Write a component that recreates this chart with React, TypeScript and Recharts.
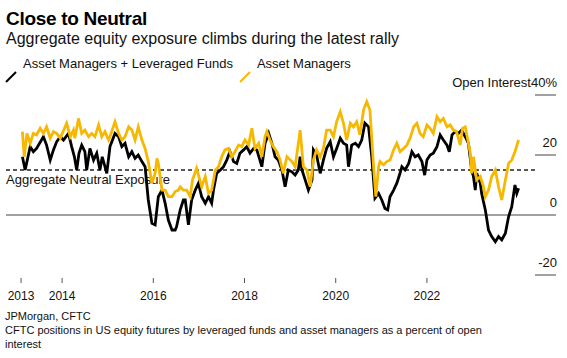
import React from 'react';
import { LineChart, Line, XAxis, YAxis, ReferenceLine } from 'recharts';

const blackYears = [
  2013.13, 2013.19, 2013.30, 2013.37, 2013.44, 2013.59, 2013.66, 2013.74, 2013.81, 2013.88, 2013.96,
  2014.03, 2014.14, 2014.21, 2014.27, 2014.32, 2014.37, 2014.43, 2014.50, 2014.54, 2014.61, 2014.69,
  2014.76, 2014.83, 2014.88, 2014.94, 2014.98, 2015.05, 2015.16, 2015.24, 2015.31, 2015.38, 2015.46,
  2015.53, 2015.60, 2015.67, 2015.75, 2015.82, 2015.89, 2015.97, 2016.04, 2016.11, 2016.19, 2016.26,
  2016.33, 2016.41, 2016.48, 2016.51, 2016.59, 2016.66, 2016.70, 2016.77, 2016.84, 2016.92, 2016.99,
  2017.06, 2017.14, 2017.21, 2017.28, 2017.32, 2017.39, 2017.47, 2017.54, 2017.61, 2017.68, 2017.76,
  2017.83, 2017.90, 2017.98, 2018.05, 2018.12, 2018.20, 2018.27, 2018.38, 2018.45, 2018.53, 2018.60,
  2018.67, 2018.74, 2018.82, 2018.89, 2018.96, 2019.04, 2019.11, 2019.18, 2019.22, 2019.26, 2019.33,
  2019.40, 2019.48, 2019.51, 2019.58, 2019.66, 2019.73, 2019.80, 2019.88, 2019.95, 2020.02, 2020.10,
  2020.17, 2020.24, 2020.28, 2020.35, 2020.43, 2020.50, 2020.57, 2020.64, 2020.72, 2020.79, 2020.86,
  2020.94, 2021.01, 2021.08, 2021.14, 2021.19, 2021.27, 2021.34, 2021.41, 2021.45, 2021.52, 2021.60,
  2021.67, 2021.74, 2021.81, 2021.89, 2021.95, 2022.00, 2022.07, 2022.14, 2022.22, 2022.29, 2022.36,
  2022.44, 2022.49, 2022.55, 2022.62, 2022.69, 2022.76, 2022.84, 2022.91, 2022.98, 2023.02, 2023.06,
  2023.09, 2023.17, 2023.20, 2023.28, 2023.35, 2023.42, 2023.50, 2023.57, 2023.64, 2023.72, 2023.79,
  2023.86, 2023.93, 2023.97, 2024.01,
];
const blackValues = [
  19.4, 15.0, 22.8, 21.1, 22.2, 26.1, 23.3, 18.3, 21.7, 24.4, 26.1,
  25.0, 27.2, 22.8, 19.4, 15.0, 20.6, 23.3, 21.1, 15.0, 22.2, 18.3,
  20.6, 15.0, 19.4, 16.1, 13.9, 22.8, 27.2, 26.1, 22.8, 23.9, 19.4,
  21.1, 18.9, 20.0, 17.8, 16.1, 5.0, -2.8, -3.3, 6.1, 8.3, 3.9,
  -1.7, -5.0, -5.0, -3.9, 1.7, 5.0, 5.0, -3.3, 5.0, 8.3, 10.6,
  6.1, 3.9, 6.1, 3.9, 8.3, 13.9, 15.0, 16.1, 18.3, 21.1, 17.8,
  17.2, 20.6, 21.7, 22.8, 20.6, 22.2, 21.7, 16.1, 23.9, 27.2, 23.9,
  19.4, 18.3, 15.0, 9.4, 15.0, 14.4, 13.3, 15.0, 19.4, 15.0, 11.7,
  8.3, 11.7, 21.7, 20.0, 13.9, 18.3, 22.2, 24.4, 19.4, 22.2, 25.6,
  23.9, 23.3, 16.1, 23.3, 23.9, 22.8, 25.0, 30.6, 29.4, 19.4, 5.6,
  7.2, 5.0, 2.2, 1.7, 6.1, 8.3, 10.6, 13.9, 16.1, 15.0, 17.2,
  21.1, 19.4, 20.0, 17.8, 13.3, 18.3, 20.0, 20.6, 22.8, 26.7, 25.0,
  23.3, 21.1, 26.7, 27.8, 27.2, 28.3, 26.1, 23.9, 15.0, 12.8, 8.3,
  13.9, 10.6, 7.2, 1.7, -5.0, -7.2, -8.9, -7.2, -8.3, -6.1, -0.6,
  2.8, 10.0, 7.2, 8.9,
];

const yellowYears = [
  2013.13, 2013.17, 2013.23, 2013.30, 2013.37, 2013.44, 2013.52, 2013.59, 2013.66, 2013.74, 2013.81,
  2013.88, 2013.96, 2014.10, 2014.18, 2014.25, 2014.28, 2014.36, 2014.43, 2014.50, 2014.58, 2014.65,
  2014.72, 2014.80, 2014.87, 2014.94, 2015.02, 2015.05, 2015.16, 2015.24, 2015.31, 2015.38, 2015.46,
  2015.53, 2015.60, 2015.67, 2015.75, 2015.82, 2015.89, 2015.97, 2016.04, 2016.08, 2016.11, 2016.19,
  2016.26, 2016.33, 2016.41, 2016.48, 2016.55, 2016.59, 2016.66, 2016.73, 2016.81, 2016.86, 2016.95,
  2017.06, 2017.14, 2017.21, 2017.28, 2017.36, 2017.43, 2017.50, 2017.57, 2017.65, 2017.72, 2017.79,
  2017.87, 2017.94, 2018.01, 2018.09, 2018.16, 2018.23, 2018.31, 2018.38, 2018.45, 2018.49, 2018.56,
  2018.63, 2018.71, 2018.78, 2018.85, 2018.93, 2019.04, 2019.11, 2019.22, 2019.29, 2019.37, 2019.44,
  2019.51, 2019.58, 2019.66, 2019.73, 2019.80, 2019.88, 2019.95, 2020.02, 2020.10, 2020.17, 2020.24,
  2020.32, 2020.39, 2020.46, 2020.53, 2020.61, 2020.68, 2020.75, 2020.83, 2020.88, 2020.94, 2020.97,
  2021.05, 2021.12, 2021.19, 2021.27, 2021.34, 2021.41, 2021.49, 2021.56, 2021.63, 2021.71, 2021.78,
  2021.85, 2021.92, 2022.00, 2022.07, 2022.14, 2022.22, 2022.29, 2022.36, 2022.44, 2022.51, 2022.58,
  2022.65, 2022.73, 2022.78, 2022.84, 2022.91, 2022.95, 2022.98, 2023.02, 2023.06, 2023.09, 2023.17,
  2023.24, 2023.28, 2023.35, 2023.42, 2023.50, 2023.57, 2023.64, 2023.72, 2023.79, 2023.86, 2023.93,
  2024.01,
];
const yellowValues = [
  27.8, 19.4, 27.2, 23.9, 27.2, 26.7, 28.9, 27.2, 29.4, 25.6, 27.8,
  27.2, 25.6, 30.6, 26.1, 28.3, 25.6, 32.2, 27.2, 28.3, 26.1, 27.2,
  26.1, 30.0, 26.1, 27.8, 25.0, 26.1, 31.1, 27.2, 25.0, 26.1, 29.4,
  28.3, 25.0, 29.4, 25.0, 22.2, 17.8, 10.6, 13.9, 18.9, 17.2, 8.3,
  8.3, 6.1, 6.1, 7.8, 8.3, 9.4, 8.3, 8.3, 6.1, 11.7, 15.6,
  9.4, 12.8, 7.2, 8.3, 15.0, 16.1, 19.4, 21.7, 22.2, 19.4, 21.1,
  23.3, 22.8, 25.0, 23.3, 28.9, 22.2, 23.9, 19.4, 26.1, 27.8, 25.0,
  22.8, 21.1, 18.3, 13.9, 19.4, 17.8, 16.1, 28.3, 16.1, 15.0, 9.4,
  18.3, 21.7, 19.4, 22.2, 28.3, 28.3, 26.1, 31.1, 34.4, 30.6, 25.0,
  30.6, 29.4, 31.1, 26.7, 35.0, 37.8, 35.0, 16.1, 6.1, 16.1, 17.8,
  16.7, 17.8, 18.3, 21.7, 23.9, 21.1, 22.2, 23.3, 25.6, 29.4, 30.6,
  27.2, 26.1, 30.0, 28.9, 27.2, 32.8, 31.1, 32.2, 29.4, 30.0, 28.3,
  27.8, 23.3, 28.9, 29.4, 23.9, 20.6, 13.9, 19.4, 15.0, 11.7, 12.8,
  9.4, 6.1, 8.3, 12.8, 15.0, 9.4, 5.0, 11.7, 17.2, 18.3, 21.1,
  25.0,
];

const tickYears = [2013.1, 2014, 2016, 2018, 2020, 2022];
const tickLabels = ['2013', '2014', '2016', '2018', '2020', '2022'];
const yTicks = [-20, 0, 20, 40];
const neutralLevel = 15;
const xDomain = [2012.77, 2024.83];
const neutralEnd = 2024.37;

const blackData = blackYears.map((year, i) => ({ year, value: blackValues[i] }));
const yellowData = yellowYears.map((year, i) => ({ year, value: yellowValues[i] }));

const BLACK = '#000000';
const YELLOW = '#F7B801';
const FONT = '"Liberation Sans", Arial, sans-serif';

const XTick = (props: any) => {
  const { x, y, payload } = props;
  const idx = tickYears.indexOf(payload.value);
  return (
    <g>
      <line x1={x} x2={x} y1={y + 3} y2={y + 8} stroke="#555" strokeWidth={1} />
      <text x={x} y={y + 25} textAnchor="middle" fontSize={12} fill="#111" fontFamily={FONT}>
        {tickLabels[idx]}
      </text>
    </g>
  );
};

// right axis sits at the plot's right edge; draw short grid stubs leftwards
const YTick = (props: any) => {
  const { y, payload } = props;
  const x = 556;
  const v = payload.value;
  return (
    <g>
      {v !== 0 && <line x1={x - 21} x2={x} y1={y} y2={y} stroke="#444" strokeWidth={1} />}
      <text x={x + 1} y={y - 8} textAnchor="end" fontSize={13} fill="#111" fontFamily={FONT}>
        {v === 40 && <tspan>Open Interest</tspan>}
        <tspan>{v === 40 ? '40%' : String(v)}</tspan>
      </text>
    </g>
  );
};

const NeutralLabel = (props: any) => {
  const { viewBox } = props;
  return (
    <text x={viewBox.x} y={viewBox.y + 14} fontSize={13} fill="#111" fontFamily={FONT}>
      Aggregate Neutral Exposure
    </text>
  );
};

const Slash = ({ color }: { color: string }) => (
  <svg width={12} height={12} style={{ position: 'absolute', top: 3 }}>
    <line x1={1} y1={11} x2={11} y2={1} stroke={color} strokeWidth={2} />
  </svg>
);

export default function App() {
  return (
    <div style={{ position: 'absolute', left: 0, top: 0, width: 567, height: 358, background: '#fff', fontFamily: FONT, color: '#111' }}>
      <div style={{ position: 'absolute', left: 6, top: 8, fontSize: 19, lineHeight: '22px', fontWeight: 700, letterSpacing: -0.3, color: '#000' }}>
        Close to Neutral
      </div>
      <div style={{ position: 'absolute', left: 6, top: 30, fontSize: 16, lineHeight: '18px' }}>
        Aggregate equity exposure climbs during the latest rally
      </div>
      <div style={{ position: 'absolute', left: 5, top: 56, fontSize: 13, lineHeight: '16px', whiteSpace: 'nowrap' }}>
        <span style={{ position: 'relative', display: 'inline-block', width: 18 }}><Slash color={BLACK} /></span>
        <span>Asset Managers + Leveraged Funds</span>
        <span style={{ position: 'relative', display: 'inline-block', width: 18, marginLeft: 6 }}><Slash color={YELLOW} /></span>
        <span>Asset Managers</span>
      </div>

      <div style={{ position: 'absolute', left: 0, top: 66 }}>
        <LineChart width={567} height={244} margin={{ top: 29, right: 10, bottom: 0, left: 6 }}>
          <XAxis
            dataKey="year"
            type="number"
            domain={xDomain}
            ticks={tickYears}
            allowDataOverflow
            axisLine={false}
            tickLine={false}
            tickSize={0}
            tickMargin={0}
            height={35}
            tick={<XTick />}
            interval={0}
          />
          <YAxis
            orientation="right"
            type="number"
            domain={[-20, 40]}
            ticks={yTicks}
            width={1}
            axisLine={false}
            tickLine={false}
            tickSize={0}
            tickMargin={0}
            tick={<YTick />}
            interval={0}
          />
          <ReferenceLine y={0} stroke="#444" strokeWidth={1} />
          <ReferenceLine
            segment={[{ x: xDomain[0], y: neutralLevel }, { x: neutralEnd, y: neutralLevel }]}
            stroke="#222"
            strokeWidth={1.3}
            strokeDasharray="4 3"
            label={<NeutralLabel />}
          />
          <Line data={blackData} dataKey="value" type="linear" stroke={BLACK} strokeWidth={2.8} dot={false} isAnimationActive={false} />
          <Line data={yellowData} dataKey="value" type="linear" stroke={YELLOW} strokeWidth={2.8} dot={false} isAnimationActive={false} />
        </LineChart>
      </div>

      <div style={{ position: 'absolute', left: 5, top: 309, width: 500, fontSize: 11, lineHeight: '14px' }}>
        <div>JPMorgan, CFTC</div>
        <div>CFTC positions in US equity futures by leveraged funds and asset managers as a percent of open interest</div>
      </div>
    </div>
  );
}
